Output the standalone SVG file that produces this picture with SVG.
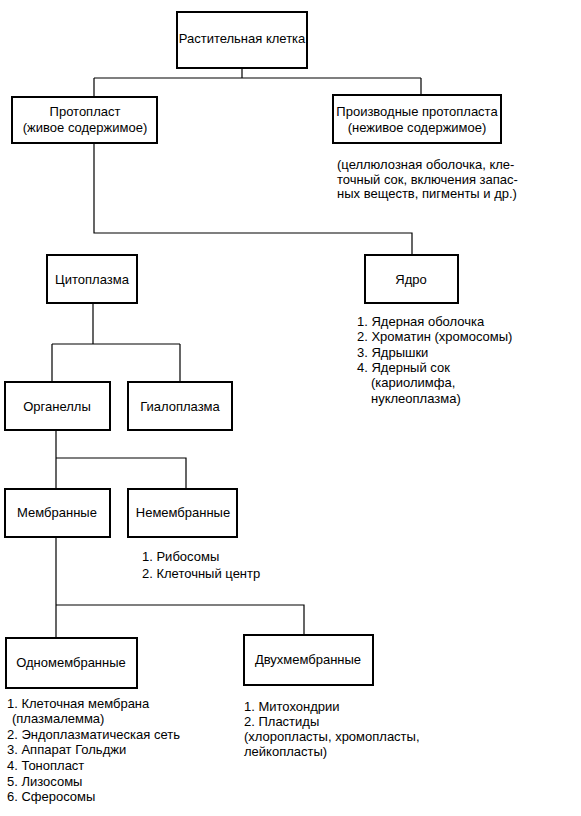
<svg xmlns="http://www.w3.org/2000/svg" width="581" height="816" viewBox="0 0 581 816">
<style>
.box{fill:#fff;stroke:#000;stroke-width:2}
.ln{fill:none;stroke:#000;stroke-width:1.2}
text{font-family:"Liberation Sans",Arial,sans-serif;font-size:13px;fill:#000}
.c{text-anchor:middle}
</style>
<rect width="581" height="816" fill="#fff"/>
<g id="connectors">
<path class="ln" d="M242 68V78M94 78H421M94 78V97M421 78V95"/>
<path class="ln" d="M94 143V233H412V255"/>
<path class="ln" d="M93 303V344M52 344H180M52 344V382M180 344V382"/>
<path class="ln" d="M56 430V489M56 458H186V489"/>
<path class="ln" d="M56 537V638M56 605H304V635"/>
</g>
<g id="n-cell"><rect class="box" x="177" y="12" width="130" height="56"/><text class="c" x="242" y="43">Растительная клетка</text></g>
<g id="n-protoplast"><rect class="box" x="12" y="97" width="145" height="46"/><text class="c" x="85" y="116">Протопласт</text><text class="c" x="85" y="132">(живое содержимое)</text></g>
<g id="n-derivatives"><rect class="box" x="333" y="95" width="168" height="48"/><text class="c" x="417" y="116">Производные протопласта</text><text class="c" x="417" y="132">(неживое содержимое)</text></g>
<g id="t-derivatives"><text x="337" y="169">(целлюлозная оболочка, кле-</text><text x="337" y="184">точный сок, включения запас-</text><text x="337" y="198">ных веществ, пигменты и др.)</text></g>
<g id="n-cytoplasm"><rect class="box" x="47" y="255" width="90" height="48"/><text class="c" x="92" y="284">Цитоплазма</text></g>
<g id="n-nucleus"><rect class="box" x="365" y="255" width="93" height="48"/><text class="c" x="411" y="284">Ядро</text></g>
<g id="t-nucleus"><text x="357" y="326">1. Ядерная оболочка</text><text x="357" y="341">2. Хроматин (хромосомы)</text><text x="357" y="357">3. Ядрышки</text><text x="357" y="372">4. Ядерный сок</text><text x="371" y="387">(кариолимфа,</text><text x="371" y="403">нуклеоплазма)</text></g>
<g id="n-organelles"><rect class="box" x="5" y="382" width="105" height="48"/><text class="c" x="57" y="411">Органеллы</text></g>
<g id="n-hyaloplasm"><rect class="box" x="128" y="382" width="104" height="48"/><text class="c" x="180" y="411">Гиалоплазма</text></g>
<g id="n-membrane"><rect class="box" x="5" y="489" width="105" height="48"/><text class="c" x="57" y="517">Мембранные</text></g>
<g id="n-nonmembrane"><rect class="box" x="128" y="489" width="109" height="48"/><text class="c" x="183" y="517">Немембранные</text></g>
<g id="t-nonmembrane"><text x="142" y="561">1. Рибосомы</text><text x="142" y="578">2. Клеточный центр</text></g>
<g id="n-single"><rect class="box" x="6" y="638" width="131" height="50"/><text class="c" x="71" y="667">Одномембранные</text></g>
<g id="n-double"><rect class="box" x="244" y="635" width="129" height="50"/><text class="c" x="308" y="664">Двухмембранные</text></g>
<g id="t-single"><text x="7" y="708">1. Клеточная мембрана</text><text x="12" y="723">(плазмалемма)</text><text x="7" y="739">2. Эндоплазматическая сеть</text><text x="7" y="754">3. Аппарат Гольджи</text><text x="7" y="770">4. Тонопласт</text><text x="7" y="786">5. Лизосомы</text><text x="7" y="801">6. Сферосомы</text></g>
<g id="t-double"><text x="244" y="711">1. Митохондрии</text><text x="244" y="726">2. Пластиды</text><text x="244" y="741">(хлоропласты, хромопласты,</text><text x="244" y="756">лейкопласты)</text></g>
</svg>
